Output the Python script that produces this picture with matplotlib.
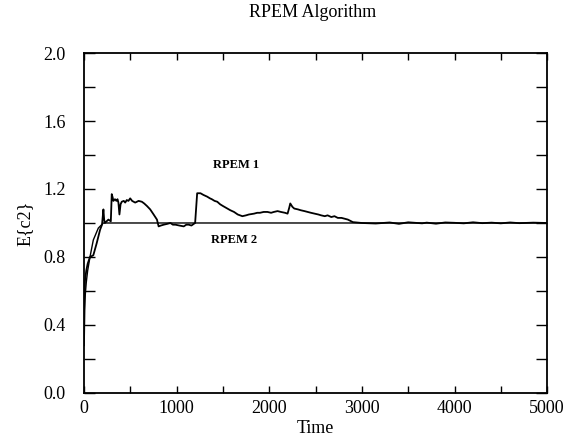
import matplotlib
matplotlib.use("Agg")
import matplotlib.pyplot as plt
import numpy as np

# RPEM 1 (jagged estimate)
t1 = [0, 5, 11, 25, 40, 65, 101, 137, 174, 195, 210, 218, 225, 264, 290, 300, 310, 318, 335, 350, 362, 372, 383,
      395, 408, 430, 445, 462, 480, 499, 520, 553, 590, 625, 650, 680, 715, 752, 788, 806, 830, 861, 900, 933, 960,
      987, 1030, 1077, 1105, 1131, 1160, 1186, 1200, 1222, 1258, 1290, 1330, 1360, 1380, 1410, 1439, 1470, 1500,
      1548, 1580, 1620, 1660, 1710, 1750, 1780, 1836, 1870, 1900, 1940, 1981, 2020, 2050, 2090, 2126, 2170, 2198,
      2216, 2227, 2250, 2270, 2310, 2340, 2380, 2415, 2450, 2490, 2530, 2560, 2600, 2630, 2670, 2704, 2740, 2780,
      2815, 2849, 2903, 3000, 3150, 3300, 3400, 3500, 3650, 3700, 3800, 3900, 4000, 4100, 4200, 4300, 4400, 4500,
      4600, 4700, 4850, 5000]
e1 = [0.28, 0.45, 0.66, 0.72, 0.76, 0.80, 0.81, 0.88, 0.96, 0.99, 1.08, 1.02, 1.00, 1.02, 1.01, 1.17, 1.15, 1.13,
      1.14, 1.13, 1.14, 1.12, 1.05, 1.11, 1.125, 1.13, 1.12, 1.135, 1.13, 1.145, 1.13, 1.12, 1.13, 1.125, 1.115,
      1.10, 1.08, 1.05, 1.02, 0.98, 0.985, 0.99, 0.995, 1.00, 0.99, 0.99, 0.985, 0.98, 0.99, 0.99, 0.985, 0.995,
      1.00, 1.175, 1.175, 1.165, 1.155, 1.145, 1.14, 1.13, 1.125, 1.11, 1.10, 1.085, 1.075, 1.065, 1.05, 1.04, 1.045,
      1.05, 1.055, 1.06, 1.06, 1.065, 1.065, 1.06, 1.065, 1.07, 1.065, 1.06, 1.055, 1.09, 1.115, 1.095, 1.085, 1.08,
      1.075, 1.07, 1.065, 1.06, 1.055, 1.05, 1.045, 1.04, 1.045, 1.035, 1.04, 1.03, 1.03, 1.025, 1.02, 1.005, 1.00,
      0.997, 1.003, 0.995, 1.004, 0.998, 1.002, 0.996, 1.003, 1.001, 0.998, 1.004, 0.999, 1.002, 0.998, 1.003,
      0.999, 1.002, 1.00]

# RPEM 2 (smooth estimate)
t2 = [0, 10, 25, 40, 65, 101, 155, 210, 300, 1000, 2000, 3000, 4000, 5000]
e2 = [0.45, 0.55, 0.65, 0.72, 0.80, 0.90, 0.97, 1.00, 1.00, 1.00, 1.00, 1.00, 1.00, 1.00]

x_ticks = [0, 1000, 2000, 3000, 4000, 5000]
y_ticks = [0.0, 0.4, 0.8, 1.2, 1.6, 2.0]

plt.rcParams['font.family'] = ['Liberation Serif', 'DejaVu Serif']

fig = plt.figure(figsize=(5.79, 4.42), dpi=100)
ax = fig.add_axes([0.145, 0.111, 0.800, 0.769])

ax.plot(t1, e1, color='black', lw=1.3)
ax.plot(t2, e2, color='black', lw=1.0)

ax.set_xlim(0, 5000)
ax.set_ylim(0, 2.0)
ax.set_xticks(x_ticks)
ax.set_xticklabels([str(v) for v in x_ticks])
ax.set_xticks(np.arange(0, 5001, 500), minor=True)
ax.set_yticks(y_ticks)
ax.set_yticklabels([f"{v:.1f}" for v in y_ticks])
ax.set_yticks(np.arange(0, 2.01, 0.2), minor=True)
ax.tick_params(which='both', direction='in', top=True, right=True, labelsize=13, width=1.0)
ax.tick_params(which='both', axis='x', length=5, pad=5)
ax.tick_params(which='both', axis='y', length=8, pad=13)
for s in ax.spines.values():
    s.set_linewidth(1.3)

ax.set_xlabel('Time', fontsize=13, labelpad=2)
ax.set_ylabel('E{c2}', fontsize=13, labelpad=7)
fig.text(0.540, 0.972, 'RPEM Algorithm', ha='center', va='center', fontsize=13)

ax.text(1640, 1.34, 'RPEM 1', ha='center', va='center', fontsize=9, fontweight='bold')
ax.text(1620, 0.90, 'RPEM 2', ha='center', va='center', fontsize=9, fontweight='bold')

fig.savefig('out.png', dpi=100)
